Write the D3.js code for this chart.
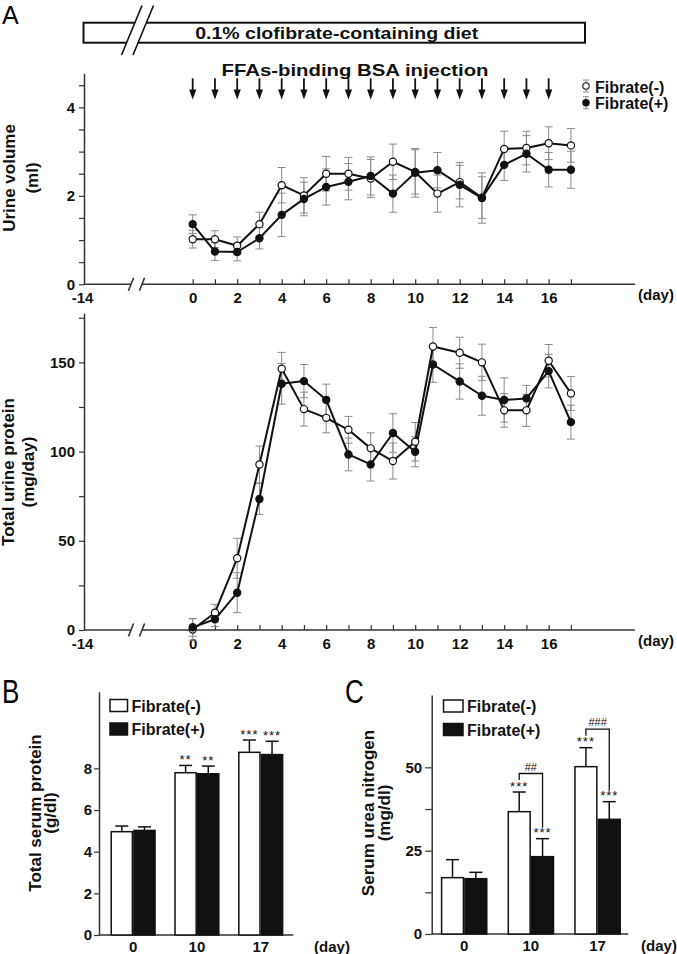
<!DOCTYPE html>
<html><head><meta charset="utf-8">
<script src="https://cdn.jsdelivr.net/npm/d3@7"></script>
<style>
body{margin:0;background:#fff}
text{font-family:"Liberation Sans",Arial,Helvetica,sans-serif}
</style></head><body>
<svg id="c" width="677" height="954"></svg>
<script>
// ---------- DATA ----------
const injectionDays = [0,1,2,3,4,5,6,7,8,9,10,11,12,13,14,15,16];
const xTickValues = [-14,0,1,2,3,4,5,6,7,8,9,10,11,12,13,14,15,16,17];
const xTickLabeled = [-14,0,2,4,6,8,10,12,14,16];

// Urine volume (ml)
const volDays   = [0,1,2,3,4,5,6,7,8,9,10,11,12,13,14,15,16,17];
const volNeg    = [1.02,1.02,0.87,1.36,2.24,2.01,2.50,2.50,2.39,2.77,2.54,2.05,2.31,1.96,3.06,3.08,3.19,3.14];
const volNegSE  = [0.20,0.19,0.20,0.27,0.40,0.40,0.39,0.37,0.43,0.40,0.50,0.42,0.38,0.47,0.40,0.38,0.37,0.38];
const volPos    = [1.36,0.74,0.73,1.04,1.57,1.93,2.20,2.32,2.45,2.05,2.52,2.58,2.25,1.95,2.70,2.95,2.59,2.59];
const volPosSE  = [0.21,0.20,0.20,0.24,0.49,0.38,0.41,0.41,0.43,0.42,0.55,0.40,0.50,0.57,0.35,0.41,0.39,0.42];
const volTicks  = [0,0.5,1,1.5,2,2.5,3,3.5,4,4.5];
const volLabeled = [0,2,4];

// Total urine protein (mg/day)
const protDays  = [0,1,2,3,4,5,6,7,8,9,10,10.8,12,13,14,15,16,17];
const protNeg   = [0.3,9.7,40.2,92.8,146.4,123.8,118.9,112.2,101.8,94.7,105.5,158.9,155.4,150.0,123.1,123.1,150.9,132.6];
const protNegSE = [6,4.7,11.2,10.3,9.2,9.5,8.4,7.5,8.7,10.1,10.8,10.7,8.7,10.2,9.4,9.0,9.1,9.5];
const protPos   = [1.5,6.0,20.9,73.4,138.0,139.5,129.0,98.4,92.8,110.4,99.9,148.8,139.3,131.3,128.9,129.8,145.1,116.5];
const protPosSE = [5,4,11.2,8.6,11.4,9.3,8.8,9.2,9.3,10.8,8.4,10.0,9.9,10.9,12.4,7.3,9.4,9.5];
const protTicks = [0,25,50,75,100,125,150,175];
const protLabeled = [0,50,100,150];

// Panel B / C
const barDays = ["0","10","17"];
const tspNeg   = [4.96,7.79,8.77];
const tspNegSE = [0.27,0.35,0.59];
const tspPos   = [5.02,7.74,8.66];
const tspPosSE = [0.17,0.37,0.64];
const tspNegStars = ["","**","***"];
const tspPosStars = ["","**","***"];
const tspTicks = [0,2,4,6,8];
const tspLabeled = [0,2,4,6,8];

const bunNeg   = [16.9,36.7,50.2];
const bunNegSE = [5.4,5.9,5.7];
const bunPos   = [16.6,23.2,34.4];
const bunPosSE = [1.9,5.4,5.3];
const bunNegStars = ["","***","***"];
const bunPosStars = ["","***","***"];
const bunHash = ["","##","###"];
const bunTicks = [0,12.5,25,37.5,50];
const bunLabeled = [0,25,50];

// ---------- DRAW ----------
const svg = d3.select("#c");
svg.append("rect").attr("width",677).attr("height",954).attr("fill","#fff");
const INK = "#111", AX = "#333", ERR = "#8a8a8a";

function label(g, x, y, txt, size, weight, anchor){
  return g.append("text").attr("x",x).attr("y",y).text(txt)
    .attr("font-size",size).attr("font-weight",weight||"bold")
    .attr("text-anchor",anchor||"start").attr("fill",INK);
}
function styleAxis(ga){
  ga.selectAll(".domain").attr("stroke",AX).attr("stroke-width",1.5);
  ga.selectAll(".tick line").attr("stroke",AX).attr("stroke-width",1.2);
  ga.selectAll(".tick text").attr("font-size",15).attr("font-weight","bold")
    .attr("fill",INK).attr("font-family",'"Liberation Sans",Arial,sans-serif');
}

// Header
const hdr = svg.append("g");
label(hdr, 2, 23.5, "A", 25, "normal").attr("fill","#000");
hdr.append("rect").attr("x",83.5).attr("y",22.7).attr("width",501.5).attr("height",20)
  .attr("fill","#fff").attr("stroke",INK).attr("stroke-width",2);
hdr.append("polygon").attr("points","121.5,55 142,5.5 153.5,5.5 133,55").attr("fill","#fff");
hdr.append("line").attr("x1",121.5).attr("y1",55).attr("x2",142).attr("y2",5.5).attr("stroke",INK).attr("stroke-width",1.6);
hdr.append("line").attr("x1",133).attr("y1",55).attr("x2",153.5).attr("y2",5.5).attr("stroke",INK).attr("stroke-width",1.6);
label(hdr, 336.7, 39.3, "0.1% clofibrate-containing diet", 16, "bold", "middle")
  .attr("textLength",283).attr("lengthAdjust","spacingAndGlyphs");
label(hdr, 355, 76, "FFAs-binding BSA injection", 17, "bold", "middle")
  .attr("textLength",267).attr("lengthAdjust","spacingAndGlyphs");

const xA = d3.scaleLinear().domain([-14,-2,19.88]).range([84,148.2,635]);

// arrows
const arr = hdr.selectAll(".arrow").data(injectionDays).enter().append("g")
  .attr("transform", d => `translate(${xA(d)},0)`);
arr.append("line").attr("x1",0).attr("x2",0).attr("y1",78.3).attr("y2",92).attr("stroke",INK).attr("stroke-width",1.8);
arr.append("path").attr("d","M-3.6,89.5 L3.6,89.5 L0,99.5 Z").attr("fill",INK);

// legend A
function legendSym(g, cx, cy, filled){
  g.append("line").attr("x1",cx).attr("x2",cx).attr("y1",cy-6).attr("y2",cy+6).attr("stroke",ERR).attr("stroke-width",1);
  g.append("line").attr("x1",cx-3).attr("x2",cx+3).attr("y1",cy-6).attr("y2",cy-6).attr("stroke",ERR).attr("stroke-width",1);
  g.append("line").attr("x1",cx-3).attr("x2",cx+3).attr("y1",cy+6).attr("y2",cy+6).attr("stroke",ERR).attr("stroke-width",1);
  g.append("circle").attr("cx",cx).attr("cy",cy).attr("r",3.2)
    .attr("fill",filled?INK:"#fff").attr("stroke",INK).attr("stroke-width",1.1);
}
legendSym(hdr, 586, 86, false);
legendSym(hdr, 586, 102.7, true);
label(hdr, 595, 93, "Fibrate(-)", 16, "bold");
label(hdr, 595, 109, "Fibrate(+)", 16, "bold");

function lineChart(o){
  const g = svg.append("g");
  const y = o.y;
  const ya = d3.axisLeft(y).tickValues(o.yTicks).tickSize(5).tickSizeOuter(0).tickPadding(4)
    .tickFormat(d => o.yLabeled.includes(d) ? d : "");
  const gy = g.append("g").attr("transform","translate(84,0)").call(ya);
  styleAxis(gy);
  const xa = d3.axisBottom(xA).tickValues(xTickValues).tickSize(-5).tickPadding(8)
    .tickFormat(d => xTickLabeled.includes(d) ? d : "");
  const gx = g.append("g").attr("transform",`translate(0,${o.axisY})`).call(xa);
  styleAxis(gx);
  gx.select(".domain").remove();
  gx.selectAll(".tick").filter(d => d === -14).select("line").remove();
  gx.selectAll(".tick").filter(d => d === -14).select("text").attr("dx",-2);
  // broken axis line
  g.append("line").attr("x1",84).attr("x2",131).attr("y1",o.axisY).attr("y2",o.axisY).attr("stroke",AX).attr("stroke-width",1.5);
  g.append("line").attr("x1",142).attr("x2",635).attr("y1",o.axisY).attr("y2",o.axisY).attr("stroke",AX).attr("stroke-width",1.5);
  [131,142].forEach(cx => g.append("line").attr("x1",cx-2.6).attr("y1",o.axisY+6.5).attr("x2",cx+2.6).attr("y2",o.axisY-6.5)
    .attr("stroke",AX).attr("stroke-width",1.6));
  label(g, 656, o.axisY+16, "(day)", 15, "bold", "middle");
  // y label
  const cyL = o.labCy;
  label(g, 0, 0, o.title1, 17, "bold", "middle").attr("transform",`translate(${o.lab1x},${cyL}) rotate(-90)`);
  label(g, 0, 0, o.title2, 17, "bold", "middle").attr("transform",`translate(${o.lab2x},${cyL}) rotate(-90)`);

  const series = [
    {v:o.neg, se:o.negSE, filled:false},
    {v:o.pos, se:o.posSE, filled:true}
  ];
  series.forEach(s => {
    const pts = o.days.map((d,i) => ({d, v:s.v[i], se:s.se[i]}));
    const eb = g.append("g").attr("stroke",ERR).attr("stroke-width",1);
    pts.forEach(p => {
      const x = xA(p.d), y1 = y(p.v - p.se), y2 = y(p.v + p.se);
      eb.append("line").attr("x1",x).attr("x2",x).attr("y1",y1).attr("y2",y2);
      eb.append("line").attr("x1",x-4).attr("x2",x+4).attr("y1",y1).attr("y2",y1);
      eb.append("line").attr("x1",x-4).attr("x2",x+4).attr("y1",y2).attr("y2",y2);
    });
    s.pts = pts;
  });
  const line = d3.line().x(p => xA(p.d)).y(p => y(p.v));
  series.forEach(s => g.append("path").attr("d",line(s.pts)).attr("fill","none")
    .attr("stroke",INK).attr("stroke-width",2).attr("stroke-linejoin","round"));
  series.forEach(s => g.selectAll(null).data(s.pts).enter().append("circle")
    .attr("cx",p => xA(p.d)).attr("cy",p => y(p.v)).attr("r",3.6)
    .attr("fill",s.filled?INK:"#fff").attr("stroke",INK).attr("stroke-width",1.2));
}

lineChart({
  y: d3.scaleLinear().domain([0,4.77]).range([284.3,73.3]),
  days: volDays, neg: volNeg, negSE: volNegSE, pos: volPos, posSE: volPosSE,
  yTicks: volTicks, yLabeled: volLabeled, axisY: 284.3,
  title1: "Urine volume", title2: "(ml)", lab1x: 15, lab2x: 38, labCy: 178
});
lineChart({
  y: d3.scaleLinear().domain([0,177.5]).range([630,313.3]),
  days: protDays, neg: protNeg, negSE: protNegSE, pos: protPos, posSE: protPosSE,
  yTicks: protTicks, yLabeled: protLabeled, axisY: 630,
  title1: "Total urine protein", title2: "(mg/day)", lab1x: 14, lab2x: 34, labCy: 472
});

function barChart(o){
  const g = svg.append("g");
  const y = o.y;
  const x = d3.scaleBand().domain(barDays).range(o.xRange).paddingInner(o.pi).paddingOuter(o.po);
  const x1 = d3.scaleBand().domain(["neg","pos"]).range([0, x.bandwidth()]);
  const ya = d3.axisLeft(y).tickValues(o.yTicks).tickSize(o.tickLen).tickSizeOuter(0).tickPadding(o.tickPad)
    .tickFormat(d => o.yLabeled.includes(d) ? d : "");
  const gy = g.append("g").attr("transform",`translate(${o.axisX},0)`).call(ya);
  styleAxis(gy);
  g.append("line").attr("x1",o.axisX).attr("x2",o.axisEnd).attr("y1",y(0)).attr("y2",y(0)).attr("stroke",AX).attr("stroke-width",1.5);
  barDays.forEach(d => label(g, x(d)+x.bandwidth()/2, y(0)+17, d, 15, "bold", "middle"));
  label(g, o.dayX, y(0)+17, "(day)", 15, "bold", "middle");
  label(g, o.letterX, 0, o.letter, 26, "normal").attr("fill","#000")
    .attr("transform",`translate(0,703) scale(1,1.25)`);
  label(g, 0, 0, o.title1, 17, "bold", "middle").attr("transform",`translate(${o.lab1x},${o.labCy}) rotate(-90)`);
  label(g, 0, 0, o.title2, 17, "bold", "middle").attr("transform",`translate(${o.lab2x},${o.labCy}) rotate(-90)`);

  const series = [
    {key:"neg", v:o.neg, se:o.negSE, stars:o.negStars, fill:"#fff"},
    {key:"pos", v:o.pos, se:o.posSE, stars:o.posStars, fill:INK}
  ];
  series.forEach(s => {
    barDays.forEach((d,i) => {
      const bx = x(d) + x1(s.key), bw = x1.bandwidth(), cx = bx + bw/2;
      const top = y(s.v[i]), et = y(s.v[i] + s.se[i]);
      g.append("line").attr("x1",cx).attr("x2",cx).attr("y1",top).attr("y2",et).attr("stroke",INK).attr("stroke-width",1.5);
      g.append("line").attr("x1",cx-6.5).attr("x2",cx+6.5).attr("y1",et).attr("y2",et).attr("stroke",INK).attr("stroke-width",1.5);
      g.append("rect").attr("x",bx+0.75).attr("y",top).attr("width",bw-1.5).attr("height",y(0)-top)
        .attr("fill",s.fill).attr("stroke",INK).attr("stroke-width",1.5);
      if (s.stars[i]) label(g, cx, et-1.5, s.stars[i], 13, "normal", "middle").attr("letter-spacing",1);
      s["cx"+i] = cx; s["et"+i] = et;
    });
  });
  // legend
  const lg = o.legend;
  g.append("rect").attr("x",lg.x).attr("y",lg.y).attr("width",lg.w).attr("height",12).attr("fill","#fff").attr("stroke",INK).attr("stroke-width",1.5);
  g.append("rect").attr("x",lg.x).attr("y",lg.y+23.5).attr("width",lg.w).attr("height",12).attr("fill",INK).attr("stroke",INK).attr("stroke-width",1.5);
  label(g, lg.tx, lg.y+12, "Fibrate(-)", 16, "bold");
  label(g, lg.tx, lg.y+35.5, "Fibrate(+)", 16, "bold");
  // significance brackets
  if (o.hash) {
    barDays.forEach((d,i) => {
      if (!o.hash[i]) return;
      const xl = series[0]["cx"+i], xr = series[1]["cx"+i];
      const topY = series[0]["et"+i] - 18.5;
      const leftEnd = topY + 6.5;
      const rightEnd = series[1]["et"+i] - 11;
      g.append("path").attr("d",`M${xl},${leftEnd} V${topY} H${xr} V${rightEnd}`)
        .attr("fill","none").attr("stroke",INK).attr("stroke-width",1.3);
      label(g, (xl+xr)/2, topY-3, o.hash[i], 11, "normal", "middle");
    });
  }
}

barChart({
  y: d3.scaleLinear().domain([0,11.68]).range([935,691.7]),
  xRange: [99, 99+63.8*3.07], pi: 0.29, po: 0.18,
  axisX: 99, axisEnd: 293.3, tickLen: 5, tickPad: 2,
  neg: tspNeg, negSE: tspNegSE, pos: tspPos, posSE: tspPosSE,
  negStars: tspNegStars, posStars: tspPosStars,
  yTicks: tspTicks, yLabeled: tspLabeled,
  dayX: 332, letter: "B", letterX: 2,
  title1: "Total serum protein", title2: "(g/dl)", lab1x: 41, lab2x: 56, labCy: 813,
  legend: {x:110, y:699.5, w:17.5, tx:131.5}
});
barChart({
  y: d3.scaleLinear().domain([0,71.7]).range([934,695]),
  xRange: [431.7, 431.7+66.7*2.974], pi: 0.30, po: 0.137,
  axisX: 431.7, axisEnd: 628.3, tickLen: 6.5, tickPad: 3,
  neg: bunNeg, negSE: bunNegSE, pos: bunPos, posSE: bunPosSE,
  negStars: bunNegStars, posStars: bunPosStars, hash: bunHash,
  yTicks: bunTicks, yLabeled: bunLabeled,
  dayX: 659, letter: "C", letterX: 345,
  title1: "Serum urea nitrogen", title2: "(mg/dl)", lab1x: 374, lab2x: 390, labCy: 813,
  legend: {x:443.5, y:700, w:19.5, tx:467}
});
</script>
</body></html>
